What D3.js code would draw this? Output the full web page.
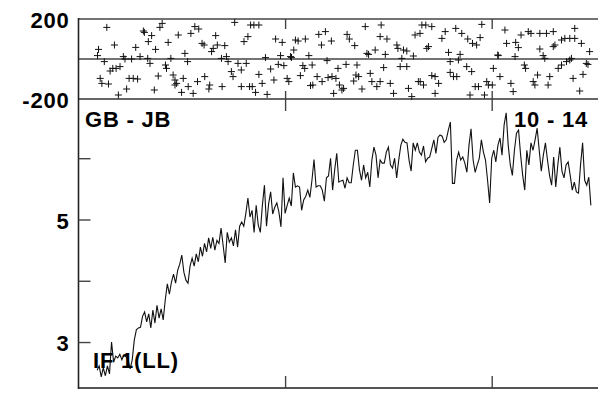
<!DOCTYPE html>
<html>
<head>
<meta charset="utf-8">
<script src="https://cdn.jsdelivr.net/npm/d3@7"></script>
<style>
  html, body { margin: 0; padding: 0; background: #fff; }
  svg { display: block; }
  text { font-family: "Liberation Sans", Arial, sans-serif; font-weight: bold; }
</style>
</head>
<body>
<svg id="chart" width="598" height="395"></svg>
<script>
// ---- data ----
const ampStartChannel = 9;
const amplitude = [
  2.54,2.61,2.43,2.58,2.45,2.61,2.48,3.00,2.67,2.77,
  2.74,2.80,2.71,2.79,2.76,2.71,2.56,2.71,3.03,3.20,
  3.23,3.24,3.42,3.49,3.33,3.46,3.23,3.52,3.31,3.60,
  3.39,3.54,3.36,3.69,3.95,3.78,3.98,4.11,3.96,4.17,
  4.27,4.42,4.14,4.01,3.96,4.24,4.37,4.24,4.44,4.31,
  4.55,4.40,4.61,4.47,4.70,4.53,4.71,4.50,4.66,4.61,
  4.86,4.58,4.29,4.79,4.63,4.70,4.57,4.83,4.55,4.89,
  4.96,4.89,5.10,5.35,5.04,5.15,4.79,5.23,4.91,4.79,
  5.23,5.56,4.89,5.25,5.45,5.09,5.20,5.27,5.12,4.88,
  5.68,5.10,5.23,5.35,5.22,5.76,5.53,5.55,5.53,5.15,
  5.32,5.38,5.48,5.36,5.64,5.98,5.53,5.55,5.55,5.48,
  5.30,5.68,5.71,6.00,5.48,5.81,6.08,5.61,5.63,5.64,
  5.51,5.68,5.60,5.60,5.89,6.13,6.13,5.81,5.64,5.89,
  5.68,5.77,5.53,5.97,6.18,6.05,5.68,5.97,5.92,5.92,
  6.10,6.18,5.89,5.84,6.00,5.68,5.97,6.21,6.31,6.26,
  6.25,5.97,5.79,6.25,6.13,6.25,6.10,6.05,6.20,5.94,
  6.00,6.02,6.16,6.30,6.08,6.34,6.38,6.36,6.26,6.30,
  6.46,6.59,5.59,5.59,5.97,6.10,5.97,6.02,5.92,5.77,
  6.21,6.48,5.97,5.77,5.89,6.00,6.30,6.10,5.97,5.64,
  5.27,6.00,6.13,5.94,6.21,6.33,6.05,6.54,6.74,6.21,
  5.89,5.72,6.13,6.41,6.46,6.05,5.72,5.48,6.13,5.89,
  6.25,6.13,6.30,6.49,6.13,5.79,6.05,6.25,5.97,5.72,
  5.56,6.02,5.53,5.89,6.18,5.79,5.68,5.89,5.94,5.72,
  5.48,5.61,5.45,5.43,5.89,6.25,5.64,5.56,5.69,5.23
];

const phaseChannel = [
  13.7,9.7,9.2,12.5,17.4,15.3,16.6,18.2,20.1,10.5,11.3,14.5,19.3,23.3,21.7,22.5,25.7,27.7,29.8,31.4,
  31.9,33.8,35.4,33.5,34.6,37.3,38.6,36.7,24.5,26.5,28.6,39.4,40.5,43.4,44.7,42.1,42.6,45.8,46.7,47.5,
  50.7,46.7,48.3,51.5,52.8,49.9,53.1,55.5,54.4,56.3,58.2,59.8,60.8,57.6,61.1,63.5,63.1,64.4,65.2,66.4,
  67.2,70.8,69.2,71.6,69.5,72.4,74.0,74.8,77.2,78.8,81.2,75.6,80.1,82.0,78.8,82.8,
  83.3,84.9,87.3,95.4,98.6,105.0,106.3,109.8,116.3,119.5,117.6,122.4,104.2,103.1,90.5,97.8,102.6,111.5,
  96.7,99.4,93.0,87.3,94.6,88.9,84.1,85.7,91.3,101.0,101.8,107.4,108.6,109.5,113.1,115.5,113.4,112.3,
  117.9,120.8,122.7,124.6,126.3,127.5,123.5,128.3,120.3,125.6,130.0,131.1,133.7,129.5,134.8,133.2,134.3,
  135.6,137.2,141.2,142.0,144.4,146.0,147.7,150.9,152.5,155.7,158.9,156.5,138.8,146.5,146.0,149.3,154.1,
  154.6,157.3,158.9,162.1,148.5,143.6,140.4,139.6,161.3,159.7,164.5,165.3,162.9,166.2,
  168.1,171.0,175.9,177.5,182.6,185.5,188.4,190.7,194.4,192.7,195.2,169.4,168.6,179.1,184.7,179.9,183.9,
  187.9,190.3,165.4,167.0,171.0,172.6,174.3,179.9,181.5,183.1,172.6,189.5,192.0,193.6,196.5,197.6,198.4,
  200.3,200.8,204.0,202.9,203.2,211.3,206.4,207.2,211.6,212.9,214.2,217.7,219.0,223.3,226.5,229.8,240.2,
  223.3,224.9,225.7,229.8,230.6,233.8,235.4,237.8,240.2,243.4,247.4,209.3,210.4,215.8,216.4,220.1,220.9,
  222.2,228.1,227.3,232.2,233.8,236.2,237.8,238.6,246.6,245.8,239.4,244.2,242.6
];
const phaseDeg = [
  158,48,17,-13,70,-60,-47,-47,-38,-97,-122,-125,-180,-150,12,0,0,58,12,140,
  133,87,117,3,-22,48,-85,-155,-97,-97,-100,158,178,83,3,-30,-47,-80,-105,-122,
  -97,-130,120,28,-13,-167,-138,-172,128,162,150,78,70,-113,-88,-130,-150,37,53,117,
  70,67,3,12,-138,-13,-63,-88,-22,-55,-22,183,87,112,-138,-138,
  170,170,170,100,83,95,90,100,123,137,70,90,45,8,7,17,12,17,
  -27,-33,-50,-77,-105,-122,-138,-167,-177,-97,-113,-83,-33,-47,-30,-88,-130,-133,
  -113,-93,-88,-97,-130,-155,-172,-147,-8,-47,123,100,67,-27,-30,-110,-80,
  -88,-150,-72,-113,-138,-113,-43,-122,-172,-38,-38,3,162,170,112,100,70,
  53,45,40,15,23,45,23,28,-188,-147,-113,128,120,170,
  170,162,103,137,153,128,100,78,107,70,173,62,53,33,23,-13,-5,
  -38,-63,-113,-130,-83,-88,-122,-67,-88,-88,-172,-180,-138,-138,-180,-113,-130,
  -130,-47,-88,20,17,12,145,78,83,57,120,137,128,128,128,137,153,
  50,17,3,62,70,95,103,103,103,78,37,-122,-163,-30,-47,-113,-130,
  -80,-88,-130,-47,-30,-13,-5,3,-27,-22,-97,-77,-160
];

const phaseTickLabels = [-200, 200];
const ampTicks = [3, 4, 5, 6];
const ampTickLabels = [3, 5];
const channelTicks = [100, 200];

// ---- layout ----
const svg = d3.select("#chart");
const x = d3.scaleLinear().domain([0, 250]).range([78.5, 595]);
const yP = d3.scaleLinear().domain([-200, 200]).range([99, 19]);
const yA = d3.scaleLinear().domain([2.25, 6.95]).range([388, 100]);
const right = 598;
const axisColor = "#444";
const fontSize = "22px";
const spacing = "0.8px";

// frame lines
const frame = svg.append("g").attr("stroke", axisColor).attr("fill", "none");
frame.append("line").attr("x1", x(0)).attr("x2", right).attr("y1", yP(200)).attr("y2", yP(200)).attr("stroke-width", 1.6);
frame.append("line").attr("x1", x(0)).attr("x2", right).attr("y1", yP(0)).attr("y2", yP(0)).attr("stroke-width", 1.3);
frame.append("line").attr("x1", x(0)).attr("x2", right).attr("y1", yP(-200)).attr("y2", yP(-200)).attr("stroke-width", 1.8).attr("stroke", "#666");
frame.append("line").attr("x1", x(0)).attr("x2", right).attr("y1", yA.range()[0]).attr("y2", yA.range()[0]).attr("stroke-width", 2).attr("stroke", "#555");
frame.append("line").attr("x1", x(0)).attr("x2", x(0)).attr("y1", yP(200) - 1).attr("y2", yA.range()[0] + 1).attr("stroke-width", 1.6).attr("stroke", "#222");

function styleAxis(g) {
  g.select(".domain").remove();
  g.selectAll(".tick line").attr("stroke", axisColor).attr("stroke-width", 1.4);
  g.selectAll(".tick text")
    .attr("fill", "#000")
    .style("font-size", fontSize)
    .style("letter-spacing", spacing)
    .attr("dy", "0.40em");
}

// top panel left labels (plain hyphen minus as in the original)
svg.append("g").attr("transform", `translate(${x(0)},0)`)
  .call(d3.axisLeft(yP).tickValues(phaseTickLabels).tickSize(0).tickPadding(9).tickFormat(d => String(d)))
  .call(styleAxis);

// amplitude left axis (inward ticks)
svg.append("g").attr("transform", `translate(${x(0)},0)`)
  .call(d3.axisLeft(yA).tickValues(ampTicks).tickSize(-12).tickPadding(9)
    .tickFormat(d => ampTickLabels.includes(d) ? String(d) : ""))
  .call(styleAxis);

// channel ticks: top of phase panel, both sides of the separator, bottom
svg.append("g").attr("transform", `translate(0,${yP(200)})`)
  .call(d3.axisTop(x).tickValues(channelTicks).tickSize(-10).tickFormat(""))
  .call(styleAxis);
svg.append("g").attr("transform", `translate(0,${yP(-200)})`)
  .call(d3.axisBottom(x).tickValues(channelTicks).tickSize(-8).tickFormat(""))
  .call(styleAxis);
svg.append("g").attr("transform", `translate(0,${yA.range()[1] - 1})`)
  .call(d3.axisTop(x).tickValues(channelTicks).tickSize(-12).tickFormat(""))
  .call(styleAxis);
svg.append("g").attr("transform", `translate(0,${yA.range()[0]})`)
  .call(d3.axisBottom(x).tickValues(channelTicks).tickSize(-12).tickFormat(""))
  .call(styleAxis);

// phase crosses
const phasePts = phaseChannel.map((c, i) => [c, phaseDeg[i]]);
svg.append("g").selectAll("path").data(phasePts).join("path")
  .attr("transform", d => `translate(${x(d[0])},${yP(Math.max(-198, Math.min(198, d[1])))})`)
  .attr("d", "M-3.5,0H3.5M0,-3.5V3.5")
  .attr("stroke", "#111").attr("stroke-width", 1).attr("fill", "none");

// amplitude line
const line = d3.line().x((d, i) => x(ampStartChannel + i)).y(d => yA(d));
svg.append("path").datum(amplitude)
  .attr("d", line).attr("fill", "none").attr("stroke", "#111").attr("stroke-width", 1.1);

// labels
const lab = svg.append("g").style("font-size", fontSize).style("letter-spacing", spacing).attr("fill", "#000");
lab.append("text").attr("x", 85).attr("y", 127).text("GB - JB");
lab.append("text").attr("x", 588).attr("y", 127).attr("text-anchor", "end").text("10 - 14");
lab.append("text").attr("x", 93).attr("y", 368).text("IF 1(LL)");
</script>
</body>
</html>
